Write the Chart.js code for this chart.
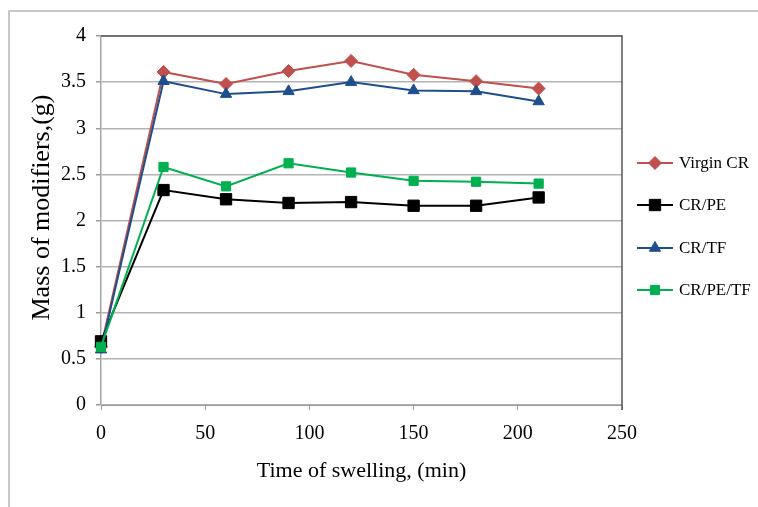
<!DOCTYPE html>
<html>
<head>
<meta charset="utf-8">
<script src="https://cdn.jsdelivr.net/npm/chart.js@4.4.1/dist/chart.umd.min.js"></script>
<style>
  html, body { margin: 0; padding: 0; background: #ffffff; }
  canvas { display: block; }
</style>
</head>
<body>
<canvas id="swellChart" width="758" height="507"></canvas>
<script>
// Values
const times = [0, 30, 60, 90, 120, 150, 180, 210];
const virginCR = [0.63, 3.61, 3.48, 3.62, 3.73, 3.58, 3.51, 3.43];
const crPE = [0.69, 2.33, 2.23, 2.19, 2.20, 2.16, 2.16, 2.25];
const crTF = [0.60, 3.51, 3.37, 3.40, 3.50, 3.41, 3.40, 3.29];
const crPETF = [0.63, 2.58, 2.37, 2.62, 2.52, 2.43, 2.42, 2.40];
const seriesLabels = ['Virgin CR', 'CR/PE', 'CR/TF', 'CR/PE/TF'];
const xTicks = [0, 50, 100, 150, 200, 250];
const yTicks = [0, 0.5, 1, 1.5, 2, 2.5, 3, 3.5, 4];

const serif = "'Liberation Serif', 'Times New Roman', serif";

function toPoints(values) {
    return times.map((t, i) => ({ x: t, y: values[i] }));
}

// Frame, plot border and the line+marker legend
const decorPlugin = {
    id: 'decor',
    beforeDraw(chart) {
        const ctx = chart.ctx;
        ctx.save();
        ctx.fillStyle = '#ffffff';
        ctx.fillRect(0, 0, chart.width, chart.height);
        ctx.strokeStyle = '#c8c8c8';
        ctx.lineWidth = 2;
        ctx.beginPath();
        ctx.moveTo(9, chart.height);
        ctx.lineTo(9, 11);
        ctx.lineTo(chart.width, 11);
        ctx.stroke();
        ctx.restore();
    },
    beforeDatasetsDraw(chart) {
        const { ctx, chartArea } = chart;
        ctx.save();
        ctx.strokeStyle = '#555555';
        ctx.lineWidth = 1.5;
        ctx.beginPath();
        ctx.moveTo(chartArea.left, chartArea.top);
        ctx.lineTo(chartArea.right, chartArea.top);
        ctx.lineTo(chartArea.right, chartArea.bottom + 5);
        ctx.stroke();
        ctx.restore();
    },
    afterDraw(chart) {
        const ctx = chart.ctx;
        const rows = [163, 205, 248, 290];
        ctx.save();
        chart.data.datasets.forEach((ds, i) => {
            const y = rows[i];
            ctx.strokeStyle = ds.borderColor;
            ctx.lineWidth = 2;
            ctx.beginPath();
            ctx.moveTo(637, y);
            ctx.lineTo(673, y);
            ctx.stroke();
            ctx.fillStyle = ds.backgroundColor;
            ctx.strokeStyle = ds.borderColor;
            ctx.lineWidth = 1;
            Chart.helpers.drawPoint(ctx, {
                pointStyle: ds.pointStyle,
                radius: ds.pointRadius,
                borderWidth: 1,
                rotation: 0
            }, 655, y);
            ctx.fillStyle = '#000000';
            ctx.font = '17px ' + serif;
            ctx.textAlign = 'left';
            ctx.textBaseline = 'middle';
            ctx.fillText(ds.label, 679, y + 1);
        });
        ctx.restore();
    }
};

const ctx = document.getElementById('swellChart').getContext('2d');

new Chart(ctx, {
    type: 'line',
    data: {
        datasets: [{
            label: seriesLabels[0],
            data: toPoints(virginCR),
            borderColor: '#C0504D',
            backgroundColor: '#C0504D',
            pointStyle: 'rectRot',
            pointRadius: 6.5,
            order: 3
        }, {
            label: seriesLabels[1],
            data: toPoints(crPE),
            borderColor: '#000000',
            backgroundColor: '#000000',
            pointStyle: 'rect',
            pointRadius: 8,
            order: 2
        }, {
            label: seriesLabels[2],
            data: toPoints(crTF),
            borderColor: '#1F4E8C',
            backgroundColor: '#1F4E8C',
            pointStyle: 'triangle',
            pointRadius: 6.5,
            order: 1
        }, {
            label: seriesLabels[3],
            data: toPoints(crPETF),
            borderColor: '#00B050',
            backgroundColor: '#00B050',
            pointStyle: 'rect',
            pointRadius: 6.5,
            order: 0
        }]
    },
    options: {
        responsive: false,
        animation: false,
        layout: {
            padding: { left: 0, top: 36, right: 136, bottom: 0 }
        },
        elements: {
            line: { borderWidth: 2, tension: 0 },
            point: { borderWidth: 1, hoverRadius: 6 }
        },
        datasets: {
            line: { clip: false }
        },
        scales: {
            x: {
                type: 'linear',
                min: 0,
                max: 250,
                afterBuildTicks(scale) {
                    scale.ticks = xTicks.map(v => ({ value: v }));
                },
                afterFit(scale) {
                    scale.height = 102;
                },
                grid: {
                    drawOnChartArea: false,
                    drawTicks: true,
                    tickLength: 5,
                    tickColor: '#9a9a9a'
                },
                border: { display: true, color: '#9a9a9a', width: 1 },
                ticks: {
                    color: '#000000',
                    padding: 12,
                    maxRotation: 0,
                    font: { family: serif, size: 20 },
                    callback: v => String(v)
                },
                title: {
                    display: true,
                    text: 'Time of swelling, (min)',
                    color: '#000000',
                    padding: { top: 0, bottom: 23 },
                    font: { family: serif, size: 22 }
                }
            },
            y: {
                min: 0,
                max: 4,
                afterBuildTicks(scale) {
                    scale.ticks = yTicks.map(v => ({ value: v }));
                },
                afterFit(scale) {
                    scale.width = 101;
                },
                grid: {
                    color: '#b4b4b4',
                    lineWidth: 1.5,
                    tickLength: 5,
                    tickColor: '#9a9a9a'
                },
                border: { display: true, color: '#a6a6a6', width: 1.5 },
                ticks: {
                    color: '#000000',
                    padding: 10,
                    font: { family: serif, size: 20 },
                    callback: v => String(v)
                },
                title: {
                    display: true,
                    // leading spaces nudge the label up a little, as in the original
                    text: '    Mass of modifiers,(g)',
                    color: '#000000',
                    padding: { top: 27, bottom: 0 },
                    font: { family: serif, size: 26 }
                }
            }
        },
        plugins: {
            legend: { display: false },
            tooltip: { enabled: false }
        }
    },
    plugins: [decorPlugin]
});
</script>
</body>
</html>
